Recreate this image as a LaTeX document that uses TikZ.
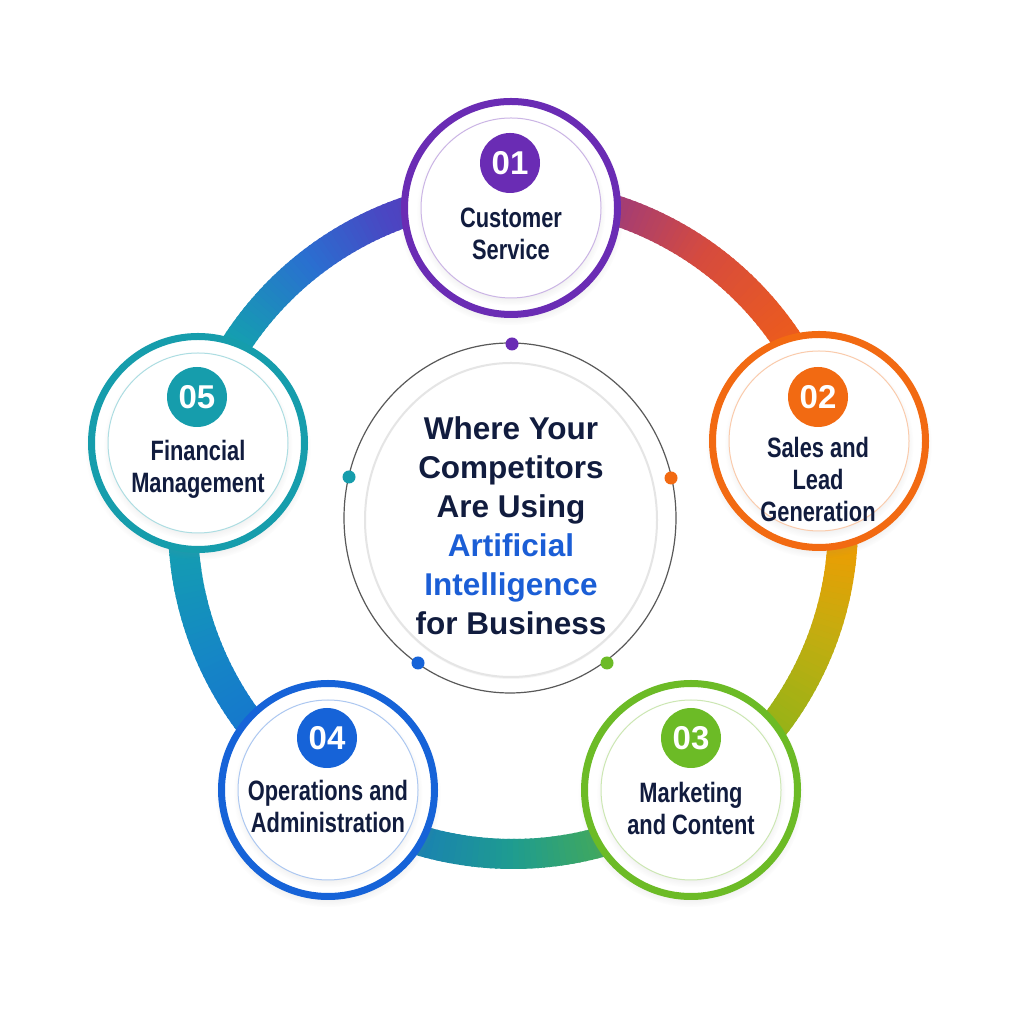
\documentclass[tikz,border=0pt]{standalone}
\usepackage{fontspec}
\setmainfont{Liberation Sans}
\newfontfamily\condfont[FakeStretch=0.78]{Liberation Sans}
\usetikzlibrary{shadows,shapes.geometric}
\definecolor{cPu}{HTML}{6A2CB4}
\definecolor{cOr}{HTML}{F26A12}
\definecolor{cGr}{HTML}{6CBB26}
\definecolor{cBl}{HTML}{1663D8}
\definecolor{cTe}{HTML}{169DAC}
\definecolor{txt}{HTML}{111C3E}
\definecolor{aiblue}{HTML}{1B5ED6}
\definecolor{rOr}{HTML}{FF6A00}
\definecolor{rRed}{HTML}{D64B3E}
\definecolor{rPu}{HTML}{6C2DB0}
\definecolor{rInd}{HTML}{4B45C2}
\definecolor{rBlu}{HTML}{2A6FD0}
\definecolor{rTe}{HTML}{13A2AE}
\definecolor{rTB}{HTML}{1585C6}
\definecolor{rBl}{HTML}{1565D6}
\definecolor{rTg}{HTML}{1E9C90}
\definecolor{rGr}{HTML}{6DB81E}
\definecolor{rYe}{HTML}{C2AD10}
\definecolor{rOy}{HTML}{F59A00}
\tikzset{
  outerc/.style={circle, draw=#1, line width=7pt, fill=white, minimum size=213pt, inner sep=0pt,
    circular drop shadow={shadow scale=1.06, opacity=0.22, shadow xshift=0pt, shadow yshift=-4pt}},
  innerc/.style={circle, draw=#1!35, line width=1pt, fill=white, minimum size=180pt, inner sep=0pt,
    circular drop shadow={shadow scale=1.05, opacity=0.18, shadow xshift=0pt, shadow yshift=-3pt}},
  badge/.style={circle, fill=#1, minimum size=60pt, inner sep=0pt, text=white,
    font=\fontsize{33}{36}\selectfont\bfseries},
  lbl/.style={text=txt, align=center, inner sep=0pt, font=\condfont\fontsize{28}{32}\selectfont\bfseries},
  hubdot/.style={circle, fill=#1, minimum size=13pt, inner sep=0pt},
}
\begin{document}
\begin{tikzpicture}[x=1pt,y=1pt]
\useasboundingbox (0,0) rectangle (1024,1024);
\fill[white] (0,0) rectangle (1024,1024);
\coordinate (ringc) at (513,500);
% gradient ring band
\foreach \a/\b/\ca/\cb in {15/55/rOr/rRed, 55/90/rRed/rPu, 90/112/rPu/rInd, 112/128/rInd/rBlu,
  128/148/rBlu/rTe, 148/180/rTe/rTe, 180/205/rTe/rTB, 205/235/rTB/rBl, 235/270/rBl/rTg, 270/305/rTg/rGr,
  305/340/rGr/rYe, 340/360/rYe/rOy, 360/375/rOy/rOr}{
  \pgfmathtruncatemacro\n{\b-\a-1}
  \foreach \i in {0,...,\n}{
    \pgfmathsetmacro\s{\a+\i}
    \pgfmathsetmacro\e{\a+\i+1.4}
    \pgfmathtruncatemacro\p{100-100*(\i+0.5)/(\b-\a)}
    \draw[line width=30pt, draw=\ca!\p!\cb] ([shift={(\s:330pt)}]ringc) arc[start angle=\s, end angle=\e, radius=330pt];
  }
}
% hub
\node[ellipse, draw=black!65, line width=1.2pt, minimum width=332pt, minimum height=350pt, inner sep=0pt] (hub) at (510,506) {};
\node[ellipse, draw=black!10, line width=2pt, fill=white, minimum width=292pt, minimum height=314pt, inner sep=0pt,
  drop shadow={shadow xshift=0pt, shadow yshift=-2pt, opacity=0.08}] (hubin) at (511,504) {};
\node[hubdot=cPu] (d1) at (512,680) {};
\node[hubdot=cOr] (d2) at (671,546) {};
\node[hubdot=cGr] (d3) at (607,361) {};
\node[hubdot=cBl] (d4) at (418,361) {};
\node[hubdot=cTe] (d5) at (349,547) {};
\node[text=txt, align=center, font=\fontsize{31.5}{39}\selectfont\bfseries] (title) at (511,498)
  {Where Your\\Competitors\\Are Using\\\textcolor{aiblue}{Artificial}\\\textcolor{aiblue}{Intelligence}\\for Business};
% nodes
\node[outerc=cPu] (n1) at (511,816) {};
\node[innerc=cPu] (i1) at (511,816) {};
\node[badge=cPu] (b1) at (510,861) {01};
\node[lbl] (l1) at (511,790) {Customer\\Service};

\node[outerc=cOr] (n2) at (819,583) {};
\node[innerc=cOr] (i2) at (819,583) {};
\node[badge=cOr] (b2) at (818,627) {02};
\node[lbl] (l2) at (818,544) {Sales and\\Lead\\Generation};

\node[outerc=cGr] (n3) at (691,234) {};
\node[innerc=cGr] (i3) at (691,234) {};
\node[badge=cGr] (b3) at (691,286) {03};
\node[lbl] (l3) at (691,216) {Marketing\\and Content};

\node[outerc=cBl] (n4) at (328,234) {};
\node[innerc=cBl] (i4) at (328,234) {};
\node[badge=cBl] (b4) at (327,286) {04};
\node[lbl] (l4) at (328,218) {Operations and\\Administration};

\node[outerc=cTe] (n5) at (198,581) {};
\node[innerc=cTe] (i5) at (198,581) {};
\node[badge=cTe] (b5) at (197,627) {05};
\node[lbl] (l5) at (198,555) {Financial\\Management};
\end{tikzpicture}
\end{document}
